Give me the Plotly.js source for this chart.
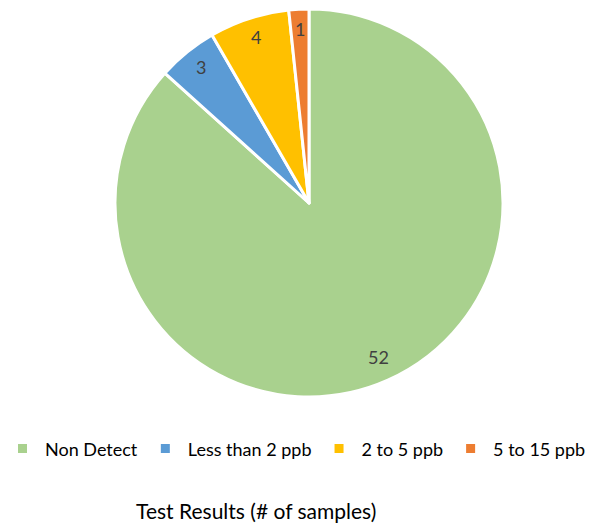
<!DOCTYPE html>
<html>
<head>
<meta charset="utf-8">
<script src="https://cdn.plot.ly/plotly-3.0.1.min.js"></script>
<style>html,body{margin:0;padding:0;background:#fff;}#chart{width:610px;height:525px;}</style>
</head>
<body>
<div id="chart"></div>
<script>
const categories = ["Non Detect", "Less than 2 ppb", "2 to 5 ppb", "5 to 15 ppb"];
const sampleCounts = [52, 3, 4, 1];
const sliceColors = ["#A9D18E", "#5B9BD5", "#FFC000", "#ED7D31"];
const chartTitle = "Test Results (# of samples)";

const W = 610, H = 525;
const margin = {l: 0, r: 0, t: 8, b: 127};
const plotW = W - margin.l - margin.r;
const plotH = H - margin.t - margin.b;
const pieLeft = 115, pieRight = 503;               // pixel extent of the pie box
const domX = [pieLeft / plotW, pieRight / plotW];
const R = Math.min(pieRight - pieLeft, plotH) / 2;
const cx = (domX[0] + domX[1]) / 2;

// label positions computed from values along each slice bisector
const total = sampleCounts.reduce((a, b) => a + b, 0);
let cum = 0;
const annotations = sampleCounts.map((v) => {
  const mid = (cum + v / 2) / total * 2 * Math.PI; // clockwise from 12 o'clock
  cum += v;
  const r = 0.885 * R;
  const px = Math.sin(mid) * r, py = Math.cos(mid) * r;
  return {
    xref: "paper", yref: "paper",
    x: cx + px / plotW, y: 0.5 + py / plotH,
    yshift: 3,
    text: String(v), showarrow: false,
    xanchor: "center", yanchor: "middle",
    font: {family: "Lato, 'Open Sans', sans-serif", size: 18, color: "#404040"}
  };
});

const data = [{
  type: "pie",
  labels: categories,
  values: sampleCounts,
  sort: false,
  direction: "clockwise",
  rotation: 0,
  textinfo: "none",
  hoverinfo: "label+value",
  marker: {colors: sliceColors, line: {color: "#ffffff", width: 3}},
  domain: {x: domX, y: [0, 1]}
}];

const layout = {
  width: W, height: H,
  margin: margin,
  paper_bgcolor: "#ffffff",
  plot_bgcolor: "#ffffff",
  font: {family: "Lato, 'Open Sans', sans-serif", color: "#000000"},
  showlegend: true,
  legend: {
    orientation: "h",
    xref: "container", yref: "container",
    x: 0, xanchor: "left",
    y: 0.145, yanchor: "middle",
    font: {size: 18, color: "#000000"},
    itemwidth: 35,
    traceorder: "normal"
  },
  title: {
    text: chartTitle,
    x: 0.42, xanchor: "center", xref: "container",
    y: 0.025, yanchor: "middle", yref: "container",
    font: {size: 21, color: "#000000"}
  },
  annotations: annotations
};

Plotly.newPlot("chart", data, layout, {displayModeBar: false, staticPlot: true});
</script>
</body>
</html>
